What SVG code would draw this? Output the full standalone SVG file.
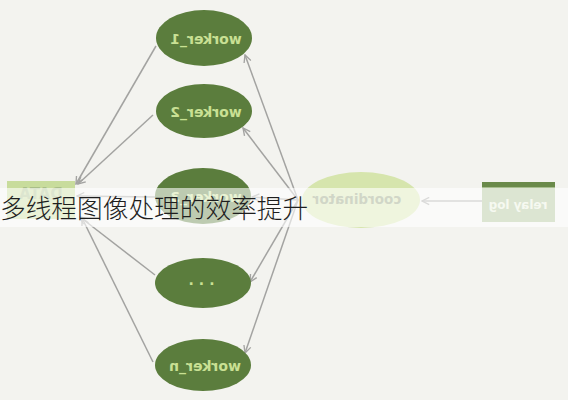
<svg xmlns="http://www.w3.org/2000/svg" width="568" height="400" viewBox="0 0 568 400">
<defs>
<style>
.worker{fill:#5b7d3d}
.wt{font-family:"DejaVu Sans",sans-serif;font-weight:bold;font-size:14px;fill:#c9e094;text-anchor:middle;dominant-baseline:central}
.conn{stroke:#a3a3a1;stroke-width:1.5;fill:none}
</style>
<marker id="ah" viewBox="0 0 10 10" refX="9" refY="5" markerWidth="9" markerHeight="9" markerUnits="userSpaceOnUse" orient="auto">
<path d="M1,1 L9,5 L1,9" fill="none" stroke="#a3a3a1" stroke-width="1.5"/>
</marker>
</defs>
<rect width="568" height="400" fill="#f3f3ef"/>

<g id="connectors">
<line class="conn" x1="298" y1="200" x2="245" y2="55" marker-end="url(#ah)"/>
<line class="conn" x1="298" y1="200" x2="243" y2="128" marker-end="url(#ah)"/>
<line class="conn" x1="298" y1="200" x2="252" y2="197" marker-end="url(#ah)"/>
<line class="conn" x1="298" y1="200" x2="250" y2="282" marker-end="url(#ah)"/>
<line class="conn" x1="298" y1="200" x2="245" y2="353" marker-end="url(#ah)"/>
<line class="conn" x1="156" y1="46" x2="76" y2="184" marker-end="url(#ah)"/>
<line class="conn" x1="153" y1="115" x2="78" y2="184" marker-end="url(#ah)"/>
<line class="conn" x1="155" y1="197" x2="77" y2="196" marker-end="url(#ah)"/>
<line class="conn" x1="155" y1="275" x2="80" y2="217" marker-end="url(#ah)"/>
<line class="conn" x1="153" y1="362" x2="82" y2="218" marker-end="url(#ah)"/>
<line class="conn" x1="482" y1="201" x2="422" y2="201" marker-end="url(#ah)"/>
</g>

<g id="relay-log">
<rect x="482" y="182" width="73" height="40" fill="#a8be8f"/>
<rect x="482" y="182" width="73" height="5" fill="#6a8a4a"/>
<text x="518" y="205" transform="matrix(-1 0 0 1 1036 0)" font-family="DejaVu Sans,sans-serif" font-weight="bold" font-size="12" fill="#e9f0dc" text-anchor="middle" dominant-baseline="central">relay log</text>
</g>

<g id="coordinator">
<ellipse cx="361" cy="200" rx="59" ry="28" fill="#d6e5ad"/>
<text x="357" y="199" transform="matrix(-1 0 0 1 714 0)" font-family="DejaVu Sans,sans-serif" font-weight="bold" font-size="13.5" fill="#8c9a73" text-anchor="middle" dominant-baseline="central">coordinator</text>
</g>

<g id="worker_1">
<ellipse class="worker" cx="204" cy="38" rx="48" ry="28"/>
<text class="wt" x="206" y="39" transform="matrix(-1 0 0 1 412 0)">worker_1</text>
</g>
<g id="worker_2">
<ellipse class="worker" cx="204" cy="111" rx="48" ry="27"/>
<text class="wt" x="206" y="112" transform="matrix(-1 0 0 1 412 0)">worker_2</text>
</g>
<g id="worker_3">
<ellipse class="worker" cx="203" cy="196" rx="48" ry="28"/>
<text class="wt" x="206" y="197" transform="matrix(-1 0 0 1 412 0)">worker_3</text>
</g>
<g id="worker_dots">
<ellipse class="worker" cx="203" cy="283" rx="48" ry="25"/>
<text class="wt" x="204" y="280" letter-spacing="5">...</text>
</g>
<g id="worker_n">
<ellipse class="worker" cx="203" cy="365" rx="48" ry="26"/>
<text class="wt" x="205" y="366" transform="matrix(-1 0 0 1 410 0)">worker_n</text>
</g>

<g id="data">
<rect x="7" y="181" width="68" height="38" fill="#c8dc9c"/>
<text x="41" y="194" transform="matrix(-1 0 0 1 82 0)" font-family="DejaVu Sans,sans-serif" font-weight="bold" font-size="15" fill="#a9be88" text-anchor="middle" dominant-baseline="central">DATA</text>
</g>

<g id="caption">
<rect x="0" y="188" width="568" height="39" fill="#ffffff" fill-opacity="0.6"/>
<text x="0" y="218" font-family="'Noto Sans CJK SC',sans-serif" font-weight="300" font-size="25.7" fill="#1e1e1e">多线程图像处理的效率提升</text>
</g>
</svg>
